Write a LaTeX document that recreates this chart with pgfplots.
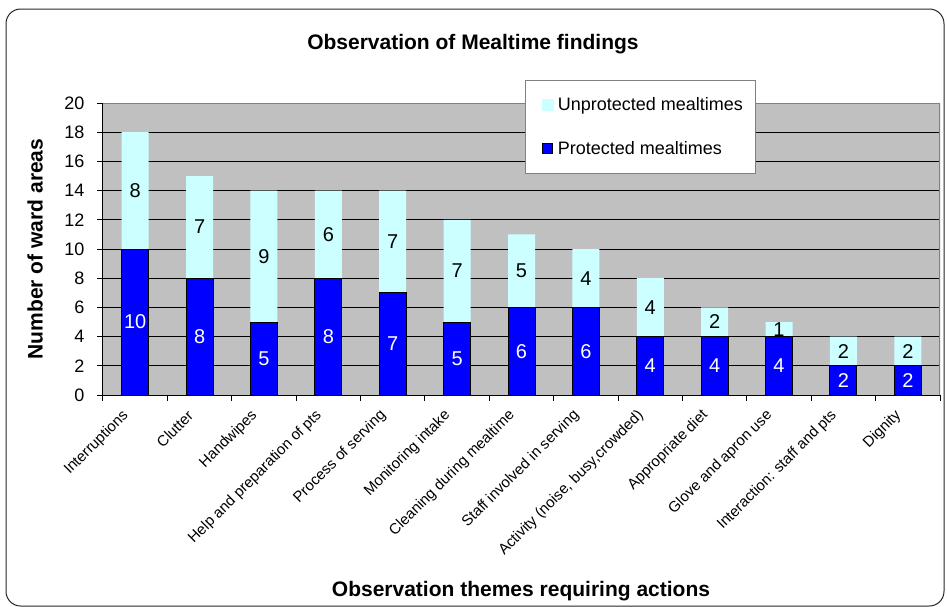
\documentclass[border=0pt]{standalone}
\usepackage{pgfplots}
\pgfplotsset{compat=1.18}
\usepackage{pgfplotstable}
\usepackage{fontspec}
\setmainfont{Liberation Sans}
\definecolor{plotgray}{HTML}{C0C0C0}
\definecolor{unprot}{HTML}{CCFFFF}
\definecolor{prot}{HTML}{0000FF}
\definecolor{bordergray}{HTML}{808080}

\pgfplotstableread{
x P U
0 10 8
1 8 7
2 5 9
3 8 6
4 7 7
5 5 7
6 6 5
7 6 4
8 4 4
9 4 2
10 4 1
11 2 2
12 2 2
}\data

\begin{document}
\begin{tikzpicture}
\path (0pt,0pt) rectangle (710.25pt,-455.25pt);
\draw[rounded corners=11pt, line width=0.75pt, draw=black!85] (4.5pt,-6.75pt) rectangle (708pt,-454.5pt);
\begin{axis}[
  at={(77.25pt,-296.25pt)}, anchor=south west,
  scale only axis, width=627.75pt, height=219pt,
  xmin=-0.5, xmax=12.5, ymin=0, ymax=20,
  enlargelimits=false,
  axis x line*=bottom, axis y line*=left,
  axis line style={black, line width=0.75pt},
  axis background/.style={fill=plotgray},
  ytick={0,2,...,20},
  ymajorgrids, grid style={black, line width=0.75pt},
  tick align=outside,
  major tick length=4.5pt, minor tick length=4.5pt,
  tick style={black, line width=0.75pt},
  every major x tick/.style={draw=none},
  xtick={0,...,12},
  minor xtick={-0.5,0.5,...,12.5},
  xticklabels={Interruptions, Clutter, Handwipes, Help and preparation of pts, Process of serving, Monitoring intake, Cleaning during mealtime, Staff involved in serving, {Activity (noise, busy,crowded)}, Appropriate diet, Glove and apron use, Interaction:  staff and pts, Dignity},
  xticklabel style={xshift=-6.75pt, yshift=-9pt, font=\fontsize{11.25}{13}\selectfont, rotate=45, anchor=east, inner sep=0pt},
  yticklabel style={xshift=-6pt, font=\fontsize{13.5}{16}\selectfont},
  /pgf/number format/assume math mode=true,
  title={Observation of Mealtime findings},
  title style={at={(axis description cs:0.442,1.174)}, anchor=center, font=\bfseries\fontsize{15.75}{18}\selectfont},
  xlabel={Observation themes requiring actions},
  xlabel style={at={(axis description cs:0.4994,-0.671)}, anchor=center, font=\bfseries\fontsize{15.75}{18}\selectfont},
  ylabel={Number of ward areas},
  ylabel style={at={(axis description cs:-0.0812,0.5)}, anchor=center, font=\bfseries\fontsize{15.75}{18}\selectfont},
  legend style={at={(0.5042,1.0771)}, anchor=north west, draw=bordergray, fill=white,
    font=\fontsize{13.5}{16}\selectfont, inner xsep=7.5pt, inner ysep=10.5pt, row sep=17.5pt},
  legend cell align=left,
]
\addplot[ybar, bar width=20.25pt, bar shift=0pt, fill=unprot, draw=none,
  legend image code/.code={\path (0pt,0pt) (14.25pt,0pt); \fill[unprot] (4.5pt,-4.5pt) rectangle (13.5pt,4.5pt);}]
  table[x=x, y expr=\thisrow{P}+\thisrow{U}] {\data};
\addlegendentry{Unprotected mealtimes}
\addplot[ybar, bar width=20.25pt, bar shift=0pt, fill=prot, draw=black, line width=0.75pt,
  legend image code/.code={\path (0pt,0pt) (14.25pt,0pt); \draw[fill=prot, draw=black, line width=0.75pt] (5.25pt,-3.75pt) rectangle (12.75pt,3.75pt);}]
  table[x=x, y=P] {\data};
\addlegendentry{Protected mealtimes}
\addplot[draw=none, mark=none, forget plot, nodes near coords={\pgfplotspointmeta}, point meta=explicit symbolic,
  every node near coord/.append style={anchor=center, text=white, font=\fontsize{15}{18}\selectfont}]
  table[x=x, y expr=\thisrow{P}/2, meta=P] {\data};
\addplot[draw=none, mark=none, forget plot, nodes near coords={\pgfplotspointmeta}, point meta=explicit symbolic,
  every node near coord/.append style={anchor=center, text=black, font=\fontsize{15}{18}\selectfont}]
  table[x=x, y expr=\thisrow{P}+\thisrow{U}/2, meta=U] {\data};
\draw[bordergray, line width=1.5pt] (rel axis cs:0,1) -- (rel axis cs:1,1) -- (rel axis cs:1,0);
\end{axis}
\end{tikzpicture}
\end{document}
